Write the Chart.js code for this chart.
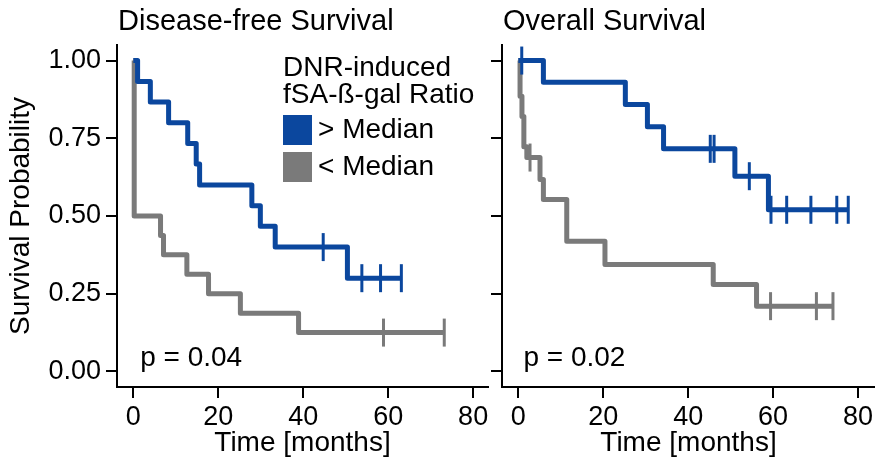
<!DOCTYPE html>
<html>
<head>
<meta charset="utf-8">
<script src="https://cdn.jsdelivr.net/npm/chart.js@4"></script>
<style>
    html, body { margin: 0; padding: 0; background: #fff; }
    #wrap { position: relative; width: 875px; height: 462px; overflow: hidden; }
    canvas { position: absolute; top: 0; }
    #dfs-chart { left: 0; }
    #os-chart { left: 480px; }
</style>
</head>
<body>
<div id="wrap">
    <canvas id="dfs-chart" width="513" height="462"></canvas>
    <canvas id="os-chart" width="420" height="462"></canvas>
</div>
<script>
// Labels
const panelTitles = ['Disease-free Survival', 'Overall Survival'];
const groupLabels = ['> Median', '< Median'];
const legendTitle = ['DNR-induced', 'fSA-ß-gal Ratio'];
const pValues = ['p = 0.04', 'p = 0.02'];
const xTicks = [0, 20, 40, 60, 80];
const yTicks = [0, 0.25, 0.5, 0.75, 1];

// Disease-free survival (months / survival probability)
const dfsHighTime = [0, 1, 4, 8.3, 12.8, 14.8, 15.6, 27.9, 29.9, 33.4, 50.4, 63.1];
const dfsHighSurv = [1, 0.933, 0.867, 0.8, 0.733, 0.667, 0.6, 0.533, 0.467, 0.4, 0.3, 0.3];
const dfsHighCensor = [44.7, 53.8, 58.2, 63.1];
const dfsLowTime = [0, 0.2, 6.4, 7.1, 12.6, 17.7, 25.2, 38.9, 73.2];
const dfsLowSurv = [1, 0.5, 0.4375, 0.375, 0.3125, 0.25, 0.1875, 0.125, 0.125];
const dfsLowCensor = [58.9, 73.2];

// Overall survival
const osHighTime = [0, 5.9, 25.2, 30.4, 34.2, 51, 58.9, 77.7];
const osHighSurv = [1, 0.93, 0.859, 0.787, 0.716, 0.628, 0.52, 0.52];
const osHighCensor = [0.8, 45.2, 46.1, 54.4, 59.5, 63.2, 68.9, 75, 77.7];
const osLowTime = [0, 0.4, 0.85, 1.3, 2.0, 5.1, 5.9, 11.4, 20.4, 45.9, 56.1, 74.1];
const osLowSurv = [1, 0.885, 0.82, 0.723, 0.688, 0.617, 0.553, 0.419, 0.344, 0.28, 0.21, 0.21];
const osLowCensor = [2.75, 59.4, 70.2, 74.1];

const blue = '#0B479E';
const grey = '#7A7A7A';
const fontFamily = '"Liberation Sans", Arial, sans-serif';

Chart.defaults.font.family = fontFamily;
Chart.defaults.color = '#000';

// step-function value at time t
function survAt(times, surv, t) {
    let s = surv[0];
    for (let i = 0; i < times.length; i++) {
        if (times[i] <= t) s = surv[i];
    }
    return s;
}

function curve(label, color, times, surv) {
    return {
        label: label,
        data: times.map((t, i) => ({ x: t, y: surv[i] })),
        borderColor: color,
        backgroundColor: color,
        borderWidth: 5,
        borderJoinStyle: 'round',
        stepped: true,
        pointRadius: 0,
        fill: false
    };
}

function censorMarks(color, times, surv, cens) {
    return {
        label: '',
        censor: true,
        data: cens.map(t => ({ x: t, y: survAt(times, surv, t) })),
        showLine: false,
        pointStyle: 'line',
        pointRotation: 90,
        pointRadius: 14,
        pointBorderWidth: 3,
        pointBorderColor: color,
        borderColor: color,
        backgroundColor: color
    };
}

// Titles, p-values and legend drawn on top
const annotate = {
    id: 'annotate',
    afterDraw(chart, args, opts) {
        const ctx = chart.ctx;
        const area = chart.chartArea;
        const xs = chart.scales.x;
        const ys = chart.scales.y;
        ctx.save();
        ctx.fillStyle = '#000';
        ctx.textAlign = 'left';
        ctx.textBaseline = 'middle';

        ctx.font = '29px ' + fontFamily;
        ctx.fillText(opts.title, area.left + 1, 22);

        ctx.font = '28px ' + fontFamily;
        ctx.fillText(opts.pValue, xs.getPixelForValue(opts.pAt[0]), ys.getPixelForValue(opts.pAt[1]));

        if (opts.legend) {
            const lx = area.left + 166;
            ctx.fillText(legendTitle[0], lx, area.top + 23);
            ctx.fillText(legendTitle[1], lx, area.top + 50);
            const items = chart.data.datasets.filter(d => !d.censor);
            items.forEach((d, i) => {
                const top = area.top + 70 + i * 37;
                ctx.fillStyle = d.borderColor;
                ctx.fillRect(lx, top, 29, 30);
                ctx.fillStyle = '#000';
                ctx.fillText(d.label, lx + 35, top + 15);
            });
        }
        ctx.restore();
    }
};

function makeChart(canvasId, cfg) {
    const axisFont = { size: 27 };
    return new Chart(document.getElementById(canvasId), {
        type: 'line',
        data: { datasets: cfg.datasets },
        options: {
            responsive: false,
            animation: false,
            events: [],
            layout: { padding: { top: 45, right: 25, left: 0, bottom: 0 } },
            plugins: {
                legend: { display: false },
                tooltip: { enabled: false },
                annotate: cfg.annotate
            },
            scales: {
                x: {
                    type: 'linear',
                    min: -3.85,
                    max: cfg.xMax,
                    afterBuildTicks: s => { s.ticks = xTicks.map(v => ({ value: v })); },
                    afterFit: s => { s.height = 75; },
                    grid: { drawOnChartArea: false, drawTicks: true, tickLength: 11, tickColor: '#000', tickWidth: 2, lineWidth: 2 },
                    border: { display: true, color: '#000', width: 2 },
                    ticks: { font: axisFont, color: '#000', padding: 3, maxRotation: 0 },
                    title: { display: true, text: 'Time [months]', font: { size: 28 }, color: '#000', padding: { top: 0, bottom: 2 } }
                },
                y: {
                    type: 'linear',
                    min: -0.05,
                    max: 1.05,
                    afterBuildTicks: s => { s.ticks = yTicks.map(v => ({ value: v })); },
                    afterFit: s => { s.width = cfg.yWidth; },
                    grid: { drawOnChartArea: false, drawTicks: true, tickLength: 11, tickColor: '#000', tickWidth: 2, lineWidth: 2 },
                    border: { display: true, color: '#000', width: 2 },
                    ticks: {
                        display: cfg.showY,
                        font: axisFont,
                        color: '#000',
                        padding: 5,
                        callback: v => v.toFixed(2)
                    },
                    title: { display: cfg.showY, text: 'Survival Probability', font: { size: 28 }, color: '#000', padding: { top: 4, bottom: 0 } }
                }
            }
        },
        plugins: [annotate]
    });
}

makeChart('dfs-chart', {
    datasets: [
        curve(groupLabels[0], blue, dfsHighTime, dfsHighSurv),
        censorMarks(blue, dfsHighTime, dfsHighSurv, dfsHighCensor),
        curve(groupLabels[1], grey, dfsLowTime, dfsLowSurv),
        censorMarks(grey, dfsLowTime, dfsLowSurv, dfsLowCensor)
    ],
    yWidth: 117,
    xMax: 83.5,
    showY: true,
    annotate: { title: panelTitles[0], pValue: pValues[0], pAt: [1.6, 0.043], legend: true }
});

makeChart('os-chart', {
    datasets: [
        curve(groupLabels[0], blue, osHighTime, osHighSurv),
        censorMarks(blue, osHighTime, osHighSurv, osHighCensor),
        curve(groupLabels[1], grey, osLowTime, osLowSurv),
        censorMarks(grey, osLowTime, osLowSurv, osLowCensor)
    ],
    yWidth: 22,
    xMax: 84,
    showY: false,
    annotate: { title: panelTitles[1], pValue: pValues[1], pAt: [1.2, 0.043], legend: false }
});
</script>
</body>
</html>
